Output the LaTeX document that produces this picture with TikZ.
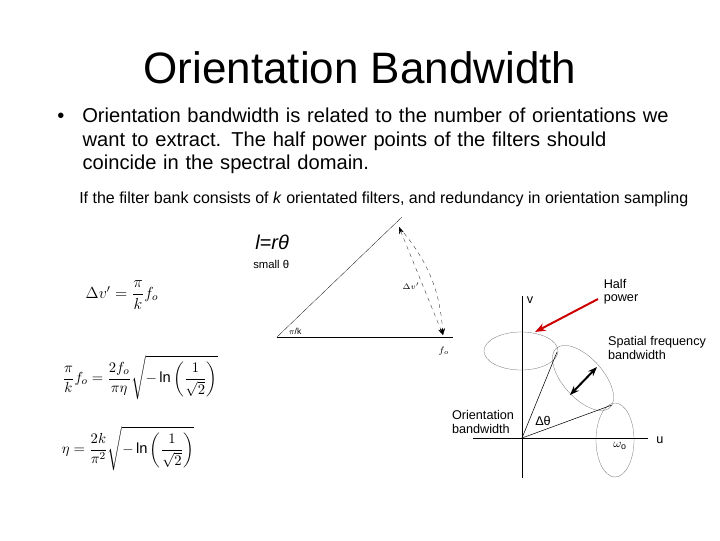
\documentclass[tikz,border=0pt]{standalone}
\usepackage{amsmath}
\usepackage{fontspec}
\setmainfont{Liberation Sans}
\usetikzlibrary{arrows.meta}
\begin{document}
\begin{tikzpicture}[x=0.75pt,y=-0.75pt,
  ell/.style={draw=black!60,very thin},
  lab/.style={font=\fontsize{9.5}{10}\selectfont,align=left,inner sep=0pt}]
\useasboundingbox (0,0) rectangle (720,540);
\node (title) at (360,68) {\fontsize{33}{36}\selectfont Orientation Bandwidth};
\node[anchor=north west,inner sep=0pt,align=left,text width=620,font=\fontsize{15.1}{17.6}\selectfont] (bul) at (57,108) {•\hspace{13.5pt}Orientation bandwidth is related to the number of orientations we\\\hspace{19pt}want to extract. The half power points of the filters should\\\hspace{19pt}coincide in the spectral domain.};
\node[anchor=west,inner sep=0pt] (iff) at (79,199) {\fontsize{12}{13}\selectfont If the filter bank consists of \textit{k} orientated filters, and redundancy in orientation sampling};
\node[anchor=west,inner sep=0pt] (lr) at (255,242) {\fontsize{15}{17}\selectfont\textit{l=rθ}};
\node[anchor=west,inner sep=0pt] (sm) at (253,264) {\fontsize{8.5}{10}\selectfont small θ};
% formulas
\node (f1) at (122,295) {\fontsize{12}{14}\selectfont $\Delta v' = \dfrac{\pi}{k} f_o$};
\node (f2) at (140,378) {\fontsize{11}{14}\selectfont $\dfrac{\pi}{k} f_o = \dfrac{2f_o}{\pi\eta}\sqrt{-\ln\left(\dfrac{1}{\sqrt{2}}\right)}$};
\node (f3) at (128,449) {\fontsize{11}{14}\selectfont $\eta = \dfrac{2k}{\pi^2}\sqrt{-\ln\left(\dfrac{1}{\sqrt{2}}\right)}$};
% triangle
\coordinate (A) at (277,337); \coordinate (B) at (453,337); \coordinate (C) at (402,217);
\coordinate (P) at (399,227); \coordinate (Q) at (443,335);
\draw[thin] (A) -- (B);
\draw[very thin] (A) -- (C);
\draw[very thin,dashed,{Stealth[length=5pt]}-{Stealth[length=5pt]}] (P) -- (Q);
\draw[very thin,dashed,-{Stealth[length=5pt]}] (P) to[bend left=18] (Q);
\node[font=\fontsize{6.5}{7}\selectfont] (dv) at (411,286) {$\Delta v'$};
\node[font=\fontsize{6.5}{7}\selectfont] (pk) at (295,331) {$\pi$/k};
\node[font=\fontsize{7}{8}\selectfont] (fo) at (444,351) {$f_o$};
% axes
\coordinate (O) at (522,438);
\draw[thin] (522,296) -- (522,478);
\draw[thin] (473,438) -- (648,438);
\node[lab] (v) at (530,300) {v};
\node[lab] (u) at (660,440) {u};
\draw[ell] (521,351) ellipse [x radius=37,y radius=19];
\draw[ell,rotate around={-48:(583,378)}] (583,378) ellipse [x radius=40,y radius=20];
\draw[ell] (615,440) ellipse [x radius=19,y radius=37];
\coordinate (E1) at (557,352); \coordinate (E2) at (612,405);
\draw[thin] (O) -- (E1); \draw[thin] (O) -- (E2);
\coordinate (d1) at (570,395); \coordinate (d2) at (597,367);
\draw[line width=1.5pt,{Stealth[length=7pt]}-{Stealth[length=7pt]}] (d1) -- (d2);
\coordinate (r1) at (598,299); \coordinate (r2) at (535,332);
\draw[red!80!black,line width=1.5pt,-{Stealth[length=8pt]}] (r1) -- (r2);
\node[lab] (hp) at (621,292) {Half\\power};
\node[lab] (sfb) at (657,348) {Spatial frequency\\bandwidth};
\node[lab] (ob) at (483,422) {Orientation\\bandwidth};
\node[lab] (dt) at (543,421) {Δθ};
\node[lab] (wo) at (620,446) {$\omega_\text{o}$};
\end{tikzpicture}
\end{document}
